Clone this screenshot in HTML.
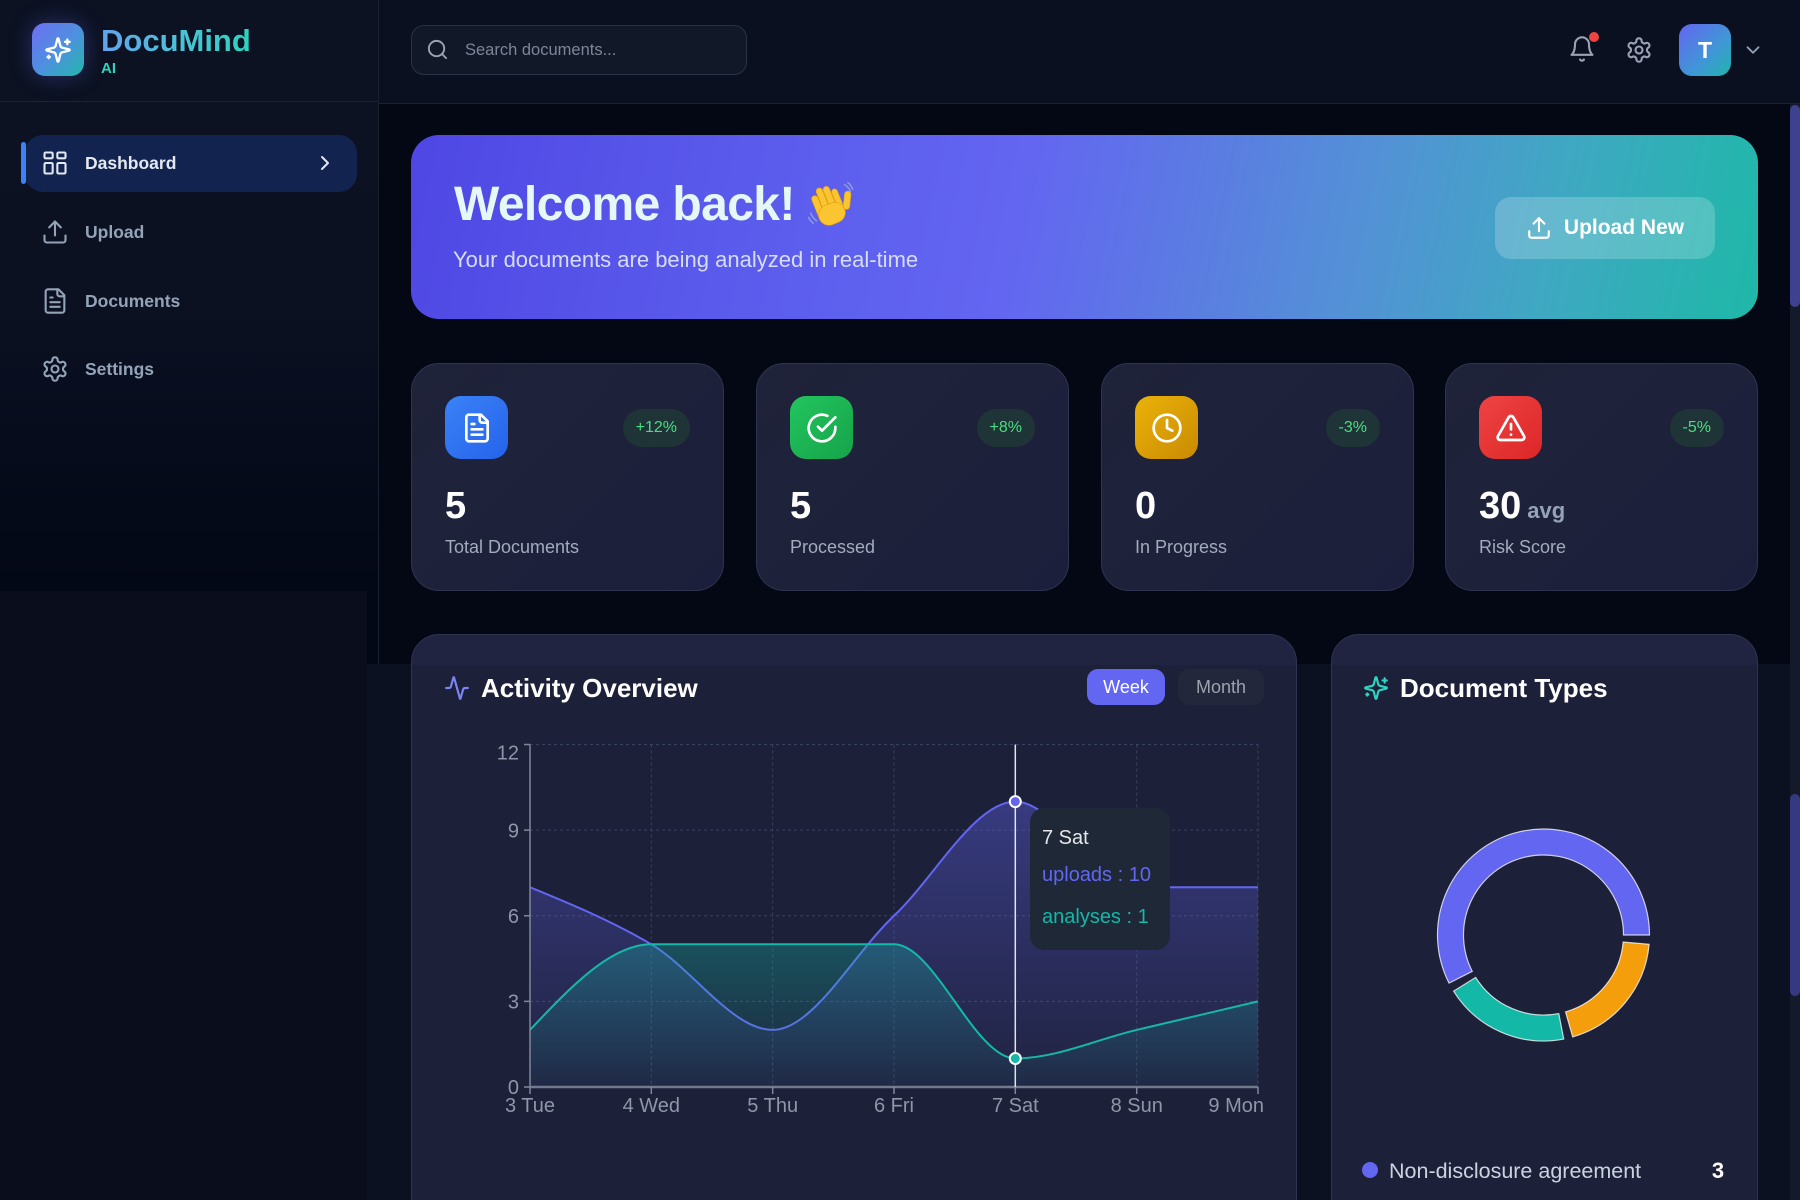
<!DOCTYPE html>
<html><head><meta charset="utf-8">
<style>
*{margin:0;padding:0;box-sizing:border-box}
html,body{width:1800px;height:1200px;overflow:hidden;background:#040714;font-family:"Liberation Sans",sans-serif;position:relative}
.a{position:absolute}
.card{position:absolute;border-radius:28px;border:1px solid #2f344e;background:linear-gradient(135deg,#1f2339 0%,#1c1f3b 100%)}
.ico{position:absolute;width:63px;height:63px;left:33px;top:32px;border-radius:16px;display:flex;align-items:center;justify-content:center}
.badge{position:absolute;right:33px;top:45px;height:38px;padding:0 13px;border-radius:19px;background:#1f3436;color:#4ade80;font-size:16px;line-height:38px}
.num{position:absolute;left:33px;top:123px;font-size:38px;line-height:38px;font-weight:bold;color:#fff}
.lbl{position:absolute;left:33px;top:174px;font-size:18px;line-height:18px;color:#a3abbe}
.nav{position:absolute;left:41px;height:30px;display:flex;align-items:center;color:#94a3b8;font-size:17.5px;font-weight:bold}
.nav svg{margin-right:16px}
</style></head><body>

<!-- Sidebar -->
<div class="a" style="left:0;top:0;width:379px;height:1200px;background:linear-gradient(180deg,#0c1222 0%,#0b1120 26%,#080e1f 32%,#050a19 42%,#030816 49.2%,#030816 100%);border-right:1px solid #1a2030"></div>
<div class="a" style="left:0;top:591px;width:367px;height:609px;background:#0a0e1c"></div>
<div class="a" style="left:0;top:101px;width:378px;height:1px;background:#1c2232"></div>

<!-- Logo -->
<div class="a" style="left:32px;top:23px;width:52px;height:53px;border-radius:13px;background:linear-gradient(135deg,#6d6ef2 0%,#4f8fe0 50%,#22b8ab 100%);box-shadow:0 0 22px rgba(99,102,241,0.35);display:flex;align-items:center;justify-content:center">
<svg width="28" height="28" viewBox="0 0 24 24" fill="none" stroke="#fff" stroke-width="2" stroke-linecap="round" stroke-linejoin="round"><path d="M9.937 15.5A2 2 0 0 0 8.5 14.063l-6.135-1.582a.5.5 0 0 1 0-.962L8.5 9.936A2 2 0 0 0 9.937 8.5l1.582-6.135a.5.5 0 0 1 .963 0L14.063 8.5A2 2 0 0 0 15.5 9.937l6.135 1.581a.5.5 0 0 1 0 .964L15.5 14.063a2 2 0 0 0-1.437 1.437l-1.582 6.135a.5.5 0 0 1-.963 0z"/><path d="M20 3v4"/><path d="M22 5h-4"/><path d="M4 17v2"/><path d="M5 18H3"/></svg>
</div>
<div class="a" style="left:101px;top:25px;font-size:31px;line-height:31px;font-weight:bold;background:linear-gradient(90deg,#62a3ec 0%,#4cc0d8 50%,#2dd4bf 100%);-webkit-background-clip:text;background-clip:text;color:transparent">DocuMind</div>
<div class="a" style="left:101px;top:61px;font-size:15px;line-height:15px;font-weight:bold;color:#2dd4bf">AI</div>

<!-- Nav -->
<div class="a" style="left:25px;top:135px;width:332px;height:57px;border-radius:18px;background:#132350"></div>
<div class="a" style="left:21px;top:142px;width:5px;height:42px;border-radius:3px;background:#3b82f6"></div>
<div class="nav" style="top:148px;color:#e2e8f0">
<svg width="28" height="28" viewBox="0 0 24 24" fill="none" stroke="currentColor" stroke-width="1.8" stroke-linecap="round" stroke-linejoin="round"><rect x="3" y="3" width="7" height="5" rx="1"/><rect x="14" y="3" width="7" height="5" rx="1"/><rect x="3" y="12" width="7" height="9" rx="1"/><rect x="14" y="12" width="7" height="9" rx="1"/></svg>Dashboard</div>
<svg class="a" style="left:313px;top:151px" width="24" height="24" viewBox="0 0 24 24" fill="none" stroke="#e2e8f0" stroke-width="2" stroke-linecap="round" stroke-linejoin="round"><path d="m9 18 6-6-6-6"/></svg>
<div class="nav" style="top:217px">
<svg width="28" height="28" viewBox="0 0 24 24" fill="none" stroke="currentColor" stroke-width="1.8" stroke-linecap="round" stroke-linejoin="round"><path d="M21 15v4a2 2 0 0 1-2 2H5a2 2 0 0 1-2-2v-4"/><path d="M17 8l-5-5-5 5"/><path d="M12 3v12"/></svg>Upload</div>
<div class="nav" style="top:286px">
<svg width="28" height="28" viewBox="0 0 24 24" fill="none" stroke="currentColor" stroke-width="1.8" stroke-linecap="round" stroke-linejoin="round"><path d="M15 2H6a2 2 0 0 0-2 2v16a2 2 0 0 0 2 2h12a2 2 0 0 0 2-2V7Z"/><path d="M14 2v4a2 2 0 0 0 2 2h4"/><path d="M10 9H8"/><path d="M16 13H8"/><path d="M16 17H8"/></svg>Documents</div>
<div class="nav" style="top:354px">
<svg width="28" height="28" viewBox="0 0 24 24" fill="none" stroke="currentColor" stroke-width="1.8" stroke-linecap="round" stroke-linejoin="round"><path d="M12.22 2h-.44a2 2 0 0 0-2 2v.18a2 2 0 0 1-1 1.73l-.43.25a2 2 0 0 1-2 0l-.15-.08a2 2 0 0 0-2.73.73l-.22.38a2 2 0 0 0 .73 2.73l.15.1a2 2 0 0 1 1 1.72v.51a2 2 0 0 1-1 1.74l-.15.09a2 2 0 0 0-.73 2.73l.22.38a2 2 0 0 0 2.73.73l.15-.08a2 2 0 0 1 2 0l.43.25a2 2 0 0 1 1 1.73V20a2 2 0 0 0 2 2h.44a2 2 0 0 0 2-2v-.18a2 2 0 0 1 1-1.73l.43-.25a2 2 0 0 1 2 0l.15.08a2 2 0 0 0 2.73-.73l.22-.39a2 2 0 0 0-.73-2.73l-.15-.08a2 2 0 0 1-1-1.74v-.5a2 2 0 0 1 1-1.74l.15-.09a2 2 0 0 0 .73-2.73l-.22-.38a2 2 0 0 0-2.73-.73l-.15.08a2 2 0 0 1-2 0l-.43-.25a2 2 0 0 1-1-1.73V4a2 2 0 0 0-2-2z"/><circle cx="12" cy="12" r="3"/></svg>Settings</div>

<!-- Header -->
<div class="a" style="left:379px;top:0;width:1421px;height:104px;background:#0b1020;border-bottom:1px solid #1c2333"></div>
<div class="a" style="left:411px;top:25px;width:336px;height:50px;border-radius:13px;border:1px solid #2a3245;background:#111827"></div>
<svg class="a" style="left:426px;top:38px" width="23" height="23" viewBox="0 0 24 24" fill="none" stroke="#9aa3b5" stroke-width="2" stroke-linecap="round" stroke-linejoin="round"><circle cx="11" cy="11" r="8"/><path d="m21 21-4.3-4.3"/></svg>
<div class="a" style="left:465px;top:42px;font-size:16.5px;line-height:17px;color:#7d8698">Search documents...</div>

<svg class="a" style="left:1568px;top:35px" width="28" height="28" viewBox="0 0 24 24" fill="none" stroke="#9aa3b5" stroke-width="1.8" stroke-linecap="round" stroke-linejoin="round"><path d="M6 8a6 6 0 0 1 12 0c0 7 3 9 3 9H3s3-2 3-9"/><path d="M10.3 21a1.94 1.94 0 0 0 3.4 0"/></svg>
<div class="a" style="left:1589px;top:32px;width:10px;height:10px;border-radius:5px;background:#ef4444"></div>
<svg class="a" style="left:1625px;top:36px" width="28" height="28" viewBox="0 0 24 24" fill="none" stroke="#9aa3b5" stroke-width="1.8" stroke-linecap="round" stroke-linejoin="round"><path d="M12.22 2h-.44a2 2 0 0 0-2 2v.18a2 2 0 0 1-1 1.73l-.43.25a2 2 0 0 1-2 0l-.15-.08a2 2 0 0 0-2.73.73l-.22.38a2 2 0 0 0 .73 2.730l.15.1a2 2 0 0 1 1 1.72v.51a2 2 0 0 1-1 1.74l-.15.09a2 2 0 0 0-.73 2.73l.22.38a2 2 0 0 0 2.73.73l.15-.08a2 2 0 0 1 2 0l.43.25a2 2 0 0 1 1 1.73V20a2 2 0 0 0 2 2h.44a2 2 0 0 0 2-2v-.18a2 2 0 0 1 1-1.73l.43-.25a2 2 0 0 1 2 0l.15.08a2 2 0 0 0 2.73-.73l.22-.39a2 2 0 0 0-.73-2.73l-.15-.08a2 2 0 0 1-1-1.74v-.5a2 2 0 0 1 1-1.74l.15-.09a2 2 0 0 0 .73-2.73l-.22-.38a2 2 0 0 0-2.73-.73l-.15.08a2 2 0 0 1-2 0l-.43-.25a2 2 0 0 1-1-1.73V4a2 2 0 0 0-2-2z"/><circle cx="12" cy="12" r="3"/></svg>
<div class="a" style="left:1679px;top:24px;width:52px;height:52px;border-radius:13px;background:linear-gradient(135deg,#6366f1 0%,#3f97d6 60%,#1fb5aa 100%);color:#fff;font-weight:bold;font-size:23px;display:flex;align-items:center;justify-content:center">T</div>
<svg class="a" style="left:1742px;top:39px" width="22" height="22" viewBox="0 0 24 24" fill="none" stroke="#94a3b8" stroke-width="2" stroke-linecap="round" stroke-linejoin="round"><path d="m6 9 6 6 6-6"/></svg>

<!-- Scrollbar -->
<div class="a" style="left:1790px;top:104px;width:10px;height:1096px;background:#141a29"></div>
<div class="a" style="left:1790px;top:105px;width:10px;height:202px;border-radius:5px;background:#3d418f"></div>
<div class="a" style="left:1790px;top:794px;width:10px;height:202px;border-radius:5px;background:#353a80"></div>

<!-- Lower band overlay -->
<div class="a" style="left:367px;top:664px;width:1423px;height:536px;background:#0b1120"></div>

<!-- Welcome banner -->
<div class="a" style="left:411px;top:135px;width:1347px;height:184px;border-radius:28px;background:linear-gradient(102deg,#4f47e4 0%,#5a5bec 25%,#6366f1 45%,#5a7fe0 60%,#5391d6 70%,#3fa8c2 84%,#1eb8a8 100%)"></div>
<div class="a" style="left:454px;top:181px;font-size:48px;line-height:48px;font-weight:bold;letter-spacing:-0.6px;color:#e6f8f5">Welcome back!</div>
<svg class="a" style="left:805px;top:180px" width="50" height="50" viewBox="0 0 46 46">
<g fill="#fbc531" stroke="#e3a008" stroke-width="0.6" transform="rotate(-22 26 30)">
<rect x="12" y="9" width="6" height="22" rx="3"/>
<rect x="18.5" y="4" width="6" height="27" rx="3"/>
<rect x="25" y="5" width="6" height="26" rx="3"/>
<rect x="31.5" y="10" width="5.5" height="21" rx="2.75"/>
<rect x="12" y="21" width="25" height="19" rx="9.5"/>
<rect x="36" y="15" width="6" height="17" rx="3" transform="rotate(28 39 30)"/>
</g>
<path d="M5 30 q2 5 6 8 M3 34 q2 4 5 6" stroke="#8fa0d8" stroke-width="1.3" fill="none"/>
<path d="M36 4 q4 2 6 7 M39 2 q4 3 5 7" stroke="#8fa0d8" stroke-width="1.3" fill="none"/>
</svg>
<div class="a" style="left:453px;top:249px;font-size:22px;line-height:22px;color:#d7ddf8">Your documents are being analyzed in real-time</div>
<div class="a" style="left:1495px;top:197px;width:220px;height:62px;border-radius:16px;background:rgba(255,255,255,0.2);display:flex;align-items:center;justify-content:center;color:#fff;font-weight:bold;font-size:21px">
<svg width="26" height="26" viewBox="0 0 24 24" fill="none" stroke="#fff" stroke-width="2" stroke-linecap="round" stroke-linejoin="round" style="margin-right:12px"><path d="M21 15v4a2 2 0 0 1-2 2H5a2 2 0 0 1-2-2v-4"/><path d="M17 8l-5-5-5 5"/><path d="M12 3v12"/></svg>Upload New</div>

<!-- Stat cards -->
<div class="card" style="left:411px;top:363px;width:313px;height:228px">
<div class="ico" style="background:linear-gradient(135deg,#3b82f6,#2563eb)"><svg width="32" height="32" viewBox="0 0 24 24" fill="none" stroke="#fff" stroke-width="2" stroke-linecap="round" stroke-linejoin="round"><path d="M15 2H6a2 2 0 0 0-2 2v16a2 2 0 0 0 2 2h12a2 2 0 0 0 2-2V7Z"/><path d="M14 2v4a2 2 0 0 0 2 2h4"/><path d="M10 9H8"/><path d="M16 13H8"/><path d="M16 17H8"/></svg></div>
<div class="badge">+12%</div>
<div class="num">5</div>
<div class="lbl">Total Documents</div>
</div>
<div class="card" style="left:756px;top:363px;width:313px;height:228px">
<div class="ico" style="background:linear-gradient(135deg,#22c55e,#16a34a)"><svg width="32" height="32" viewBox="0 0 24 24" fill="none" stroke="#fff" stroke-width="2" stroke-linecap="round" stroke-linejoin="round"><path d="M22 11.08V12a10 10 0 1 1-5.93-9.14"/><path d="m9 11 3 3L22 4"/></svg></div>
<div class="badge">+8%</div>
<div class="num">5</div>
<div class="lbl">Processed</div>
</div>
<div class="card" style="left:1101px;top:363px;width:313px;height:228px">
<div class="ico" style="background:linear-gradient(135deg,#eab308,#ca8a04)"><svg width="32" height="32" viewBox="0 0 24 24" fill="none" stroke="#fff" stroke-width="2" stroke-linecap="round" stroke-linejoin="round"><circle cx="12" cy="12" r="10"/><path d="M12 6v6l4 2"/></svg></div>
<div class="badge">-3%</div>
<div class="num">0</div>
<div class="lbl">In Progress</div>
</div>
<div class="card" style="left:1445px;top:363px;width:313px;height:228px">
<div class="ico" style="background:linear-gradient(135deg,#ef4444,#dc2626)"><svg width="32" height="32" viewBox="0 0 24 24" fill="none" stroke="#fff" stroke-width="2" stroke-linecap="round" stroke-linejoin="round"><path d="m21.73 18-8-14a2 2 0 0 0-3.48 0l-8 14A2 2 0 0 0 4 21h16a2 2 0 0 0 1.73-3"/><path d="M12 9v4"/><path d="M12 17h.01"/></svg></div>
<div class="badge">-5%</div>
<div class="num">30<span style="font-size:22px;color:#94a3b8;margin-left:6px">avg</span></div>
<div class="lbl">Risk Score</div>
</div>

<!-- Chart cards -->
<div class="card" style="left:411px;top:634px;width:886px;height:620px;background:linear-gradient(180deg,#202441 0px,#202441 30px,#1d2039 30px,#1d2039 100%)"></div>
<div class="card" style="left:1331px;top:634px;width:427px;height:620px;background:linear-gradient(180deg,#202441 0px,#202441 30px,#1d2039 30px,#1d2039 100%)"></div>

<svg class="a" style="left:444px;top:675px" width="26" height="26" viewBox="0 0 24 24" fill="none" stroke="#7c83f5" stroke-width="2" stroke-linecap="round" stroke-linejoin="round"><path d="M22 12h-2.48a2 2 0 0 0-1.93 1.46l-2.35 8.36a.25.25 0 0 1-.48 0L9.24 2.18a.25.25 0 0 0-.48 0l-2.35 8.36A2 2 0 0 1 4.49 12H2"/></svg>
<div class="a" style="left:481px;top:675px;font-size:26px;line-height:26px;font-weight:bold;color:#fff">Activity Overview</div>
<div class="a" style="left:1087px;top:669px;width:78px;height:36px;border-radius:11px;background:#6366f1;color:#fff;font-size:18px;line-height:36px;text-align:center">Week</div>
<div class="a" style="left:1178px;top:669px;width:86px;height:36px;border-radius:11px;background:#22273b;color:#9ca3af;font-size:18px;line-height:36px;text-align:center">Month</div>

<svg class="a" style="left:1363px;top:675px" width="26" height="26" viewBox="0 0 24 24" fill="none" stroke="#2dd4bf" stroke-width="2" stroke-linecap="round" stroke-linejoin="round"><path d="M9.937 15.5A2 2 0 0 0 8.5 14.063l-6.135-1.582a.5.5 0 0 1 0-.962L8.5 9.936A2 2 0 0 0 9.937 8.5l1.582-6.135a.5.5 0 0 1 .963 0L14.063 8.5A2 2 0 0 0 15.5 9.937l6.135 1.581a.5.5 0 0 1 0 .964L15.5 14.063a2 2 0 0 0-1.437 1.437l-1.582 6.135a.5.5 0 0 1-.963 0z"/><path d="M20 3v4"/><path d="M22 5h-4"/><path d="M4 17v2"/><path d="M5 18H3"/></svg>
<div class="a" style="left:1400px;top:675px;font-size:26px;line-height:26px;font-weight:bold;color:#fff">Document Types</div>

<!-- Chart SVG -->
<svg class="a" style="left:0;top:0" width="1800" height="1200" viewBox="0 0 1800 1200">
<defs>
<linearGradient id="gu" x1="0" y1="0" x2="0" y2="1"><stop offset="0" stop-color="#6366f1" stop-opacity="0.38"/><stop offset="1" stop-color="#6366f1" stop-opacity="0.04"/></linearGradient>
<linearGradient id="ga" x1="0" y1="0" x2="0" y2="1"><stop offset="0" stop-color="#14b8a6" stop-opacity="0.32"/><stop offset="1" stop-color="#14b8a6" stop-opacity="0.04"/></linearGradient>
</defs>
<g stroke="#3b4160" stroke-width="1" stroke-dasharray="3 3" fill="none">
<path d="M530 744.5H1258M530 830.1H1258M530 915.8H1258M530 1001.4H1258"/>
<path d="M651.3 744.5V1087M772.7 744.5V1087M894 744.5V1087M1015.3 744.5V1087M1136.7 744.5V1087M1258 744.5V1087"/>
</g>
<path d="M530,887.22 C570.44,903.87 610.89,920.52 651.33,944.3 C691.78,968.08 732.22,1029.92 772.67,1029.92 C813.11,1029.92 853.56,953.81 894,915.76 C934.44,877.71 974.89,801.6 1015.33,801.6 C1055.78,801.6 1096.22,887.22 1136.67,887.22 C1177.11,887.22 1217.56,887.22 1258,887.22 L1258,1087 L530,1087 Z" fill="url(#gu)"/>
<path d="M530,887.22 C570.44,903.87 610.89,920.52 651.33,944.3 C691.78,968.08 732.22,1029.92 772.67,1029.92 C813.11,1029.92 853.56,953.81 894,915.76 C934.44,877.71 974.89,801.6 1015.33,801.6 C1055.78,801.6 1096.22,887.22 1136.67,887.22 C1177.11,887.22 1217.56,887.22 1258,887.22" fill="none" stroke="#6366f1" stroke-width="2"/>
<path d="M530,1029.92 C570.44,987.11 610.89,944.3 651.33,944.3 C691.78,944.3 732.22,944.3 772.67,944.3 C813.11,944.3 853.56,944.3 894,944.3 C934.44,944.3 974.89,1058.46 1015.33,1058.46 C1055.78,1058.46 1096.22,1039.43 1136.67,1029.92 C1177.11,1020.41 1217.56,1010.89 1258,1001.38 L1258,1087 L530,1087 Z" fill="url(#ga)"/>
<path d="M530,1029.92 C570.44,987.11 610.89,944.3 651.33,944.3 C691.78,944.3 732.22,944.3 772.67,944.3 C813.11,944.3 853.56,944.3 894,944.3 C934.44,944.3 974.89,1058.46 1015.33,1058.46 C1055.78,1058.46 1096.22,1039.43 1136.67,1029.92 C1177.11,1020.41 1217.56,1010.89 1258,1001.38" fill="none" stroke="#14b8a6" stroke-width="2"/>
<!-- axes -->
<path d="M530 744.5V1087" stroke="#80879a" stroke-width="1.5"/>
<path d="M530 1087H1258" stroke="#737a8d" stroke-width="2.5"/>
<path d="M524 744.5H530M524 830.1H530M524 915.8H530M524 1001.4H530M524 1087H530" stroke="#80879a" stroke-width="1.5"/>
<path d="M530 1087V1094M651.3 1087V1094M772.7 1087V1094M894 1087V1094M1015.3 1087V1094M1136.7 1087V1094M1258 1087V1094" stroke="#80879a" stroke-width="1.5"/>
<g fill="#8e96a8" font-family="Liberation Sans, sans-serif" font-size="20">
<text x="519" y="759.5" text-anchor="end">12</text>
<text x="519" y="837.5" text-anchor="end">9</text>
<text x="519" y="923" text-anchor="end">6</text>
<text x="519" y="1008.5" text-anchor="end">3</text>
<text x="519" y="1094" text-anchor="end">0</text>
<text x="530" y="1112" text-anchor="middle">3 Tue</text>
<text x="651.3" y="1112" text-anchor="middle">4 Wed</text>
<text x="772.7" y="1112" text-anchor="middle">5 Thu</text>
<text x="894" y="1112" text-anchor="middle">6 Fri</text>
<text x="1015.3" y="1112" text-anchor="middle">7 Sat</text>
<text x="1136.7" y="1112" text-anchor="middle">8 Sun</text>
<text x="1264" y="1112" text-anchor="end">9 Mon</text>
</g>
<!-- cursor -->
<path d="M1015.3 744.5V1087" stroke="#dfe4ee" stroke-width="1.5"/>
<circle cx="1015.3" cy="801.6" r="5.5" fill="#6366f1" stroke="#fff" stroke-width="2"/>
<circle cx="1015.3" cy="1058.5" r="5.5" fill="#14b8a6" stroke="#fff" stroke-width="2"/>
<!-- donut -->
<g stroke="rgba(255,255,255,0.75)" stroke-width="1.2">
<path d="M1649.5,935 A106,106 0 1,0 1449.05,983.12 L1472.22,971.32 A80,80 0 1,1 1623.5,935 Z" fill="#6366f1"/>
<path d="M1453.61,991.17 A106,106 0 0,0 1563.72,1039.05 L1558.76,1013.53 A80,80 0 0,1 1475.66,977.39 Z" fill="#14b8a6"/>
<path d="M1572.71,1036.9 A106,106 0 0,0 1649.1,944.24 L1623.2,941.98 A80,80 0 0,1 1565.55,1011.9 Z" fill="#f59e0b"/>
</g>
<circle cx="1370" cy="1170" r="8" fill="#6366f1"/>
<text x="1389" y="1178" font-family="Liberation Sans, sans-serif" font-size="21.5" fill="#cbd3e1">Non-disclosure agreement</text>
<text x="1718" y="1178" text-anchor="middle" font-family="Liberation Sans, sans-serif" font-size="22" font-weight="bold" fill="#fff">3</text>
</svg>

<!-- Tooltip -->
<div class="a" style="left:1030px;top:808px;width:140px;height:142px;border-radius:14px;background:#1e2837"></div>
<div class="a" style="left:1042px;top:828px;font-size:20px;line-height:20px;color:#e5e7eb">7 Sat</div>
<div class="a" style="left:1042px;top:865px;font-size:20px;line-height:20px;color:#6366f1">uploads : 10</div>
<div class="a" style="left:1042px;top:907px;font-size:20px;line-height:20px;color:#14b8a6">analyses : 1</div>

</body></html>
